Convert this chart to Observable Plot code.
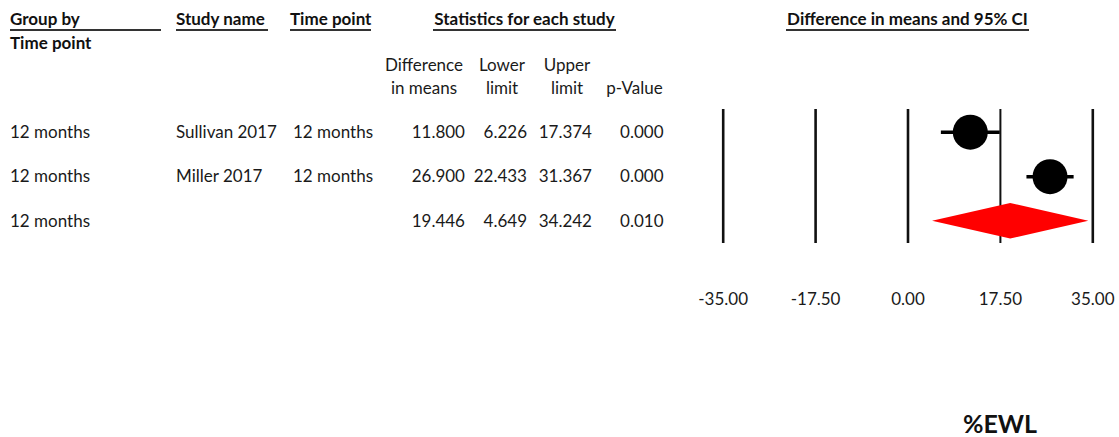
<!DOCTYPE html>
<html><head><meta charset="utf-8">
<script src="https://cdn.jsdelivr.net/npm/d3@7"></script>
<script src="https://cdn.jsdelivr.net/npm/@observablehq/plot@0.6"></script>
<style>
body{margin:0;background:#fff;}
#wrap{position:relative;width:1119px;height:437px;font-family:Lato,"Open Sans",sans-serif;color:#1a1a1a;overflow:hidden}
#wrap svg{position:absolute;left:0;top:0}
.t{position:absolute;height:22px;line-height:22px;white-space:nowrap;font-size:17px}
.b{font-weight:bold;color:#111}
.u{border-bottom:2px solid #333;height:22px;line-height:24px}
.c{text-align:center}
.r{text-align:right}
</style></head><body><div id="wrap"></div>
<script>
// ---- data ----
const groups = ["12 months", "12 months", "12 months"];
const studies = ["Sullivan 2017", "Miller 2017", ""];
const timePoints = ["12 months", "12 months", ""];
const diffs = [11.800, 26.900, 19.446];
const lowers = [6.226, 22.433, 4.649];
const uppers = [17.374, 31.367, 34.242];
const pValues = [0.000, 0.000, 0.010];
const isSummary = [false, false, true];
const ticks = [-35, -17.5, 0, 17.5, 35];
const headTop = ["Group by", "Study name", "Time point", "Statistics for each study"];
const headSub = ["Time point"];
const statHeads = [["Difference", "in means"], ["Lower", "limit"], ["Upper", "limit"], ["", "p-Value"]];
const plotTitle = "Difference in means and 95% CI";
const axisLabel = "%EWL";

const wrap = d3.select("#wrap");
const fmt3 = d => d.toFixed(3);
const fmt2 = d => d.toFixed(2);

// ---- forest plot ----
const rows = diffs.map((d, i) => ({row: i + 1, diff: d, lower: lowers[i], upper: uppers[i], summary: isSummary[i]}));
const studyRows = rows.filter(d => !d.summary);
const sumRows = rows.filter(d => d.summary);
const H = 0.4;
const diamond = sumRows.flatMap(d => [
  {x: d.lower, y1: d.row, y2: d.row},
  {x: d.diff, y1: d.row - H, y2: d.row + H},
  {x: d.upper, y1: d.row, y2: d.row}
]);
const rowY = d3.scaleLinear().domain([1, 3]).range([131.7, 220.7]);

const chart = Plot.plot({
  width: 1119, height: 437,
  marginLeft: 722.7, marginRight: 26.7, marginTop: 109, marginBottom: 194,
  x: {domain: [-35, 35]},
  y: {domain: [1, 3], range: [131.7, 220.7], axis: null},
  style: {fontFamily: "Lato, 'Open Sans', sans-serif", fontSize: "17px", color: "#1a1a1a", background: "transparent"},
  marks: [
    Plot.ruleX(ticks, {stroke: "#111", strokeWidth: d => d === 17.5 ? 2 : 2.6}),
    Plot.link(studyRows, {x1: "lower", x2: "upper", y1: "row", y2: "row", stroke: "#000", strokeWidth: 3.5}),
    Plot.dot(studyRows, {x: "diff", y: "row", r: 17.5, fill: "#000", stroke: "none"}),
    Plot.areaY(diamond, {x: "x", y1: "y1", y2: "y2", fill: "#ff0000", curve: "linear"}),
    Plot.axisX({ticks, tickFormat: fmt2, tickSize: 0, tickPadding: 49, fontSize: 17, label: null})
  ]
});
wrap.node().appendChild(chart);

// ---- table text ----
function txt(cls, text, left, cy, width) {
  const d = wrap.append("div").attr("class", "t " + cls).text(text)
    .style("left", left + "px").style("top", (cy - 11) + "px");
  if (width != null) d.style("width", width + "px");
  return d;
}
// headers
txt("b u", headTop[0], 10, 18, 151);
txt("b u", headTop[1], 176, 18, 92);
txt("b u", headTop[2], 290, 18, 81);
txt("b u c", headTop[3], 433, 18, 183);
txt("b", headSub[0], 10, 43);
txt("b u c", plotTitle, 786, 18, 243);
const statCenters = [424, 502, 567, 634.5];
statHeads.forEach((h, i) => {
  txt("c", h[0], statCenters[i] - 50, 65, 100);
  txt("c", h[1], statCenters[i] - 50, 88, 100);
});
// body rows
rows.forEach((r, i) => {
  const cy = rowY(r.row);
  txt("", groups[i], 10, cy);
  txt("", studies[i], 176, cy);
  txt("", timePoints[i], 293, cy);
  txt("r", fmt3(diffs[i]), 465 - 80, cy, 80);
  txt("r", fmt3(lowers[i]), 527 - 80, cy, 80);
  txt("r", fmt3(uppers[i]), 592 - 80, cy, 80);
  txt("r", fmt3(pValues[i]), 663.5 - 80, cy, 80);
});
// axis title
wrap.append("div").attr("class", "t b c").text(axisLabel)
  .style("left", "940px").style("top", "408px").style("width", "120px")
  .style("font-size", "25px").style("height", "30px").style("line-height", "30px");
</script>
</body></html>
